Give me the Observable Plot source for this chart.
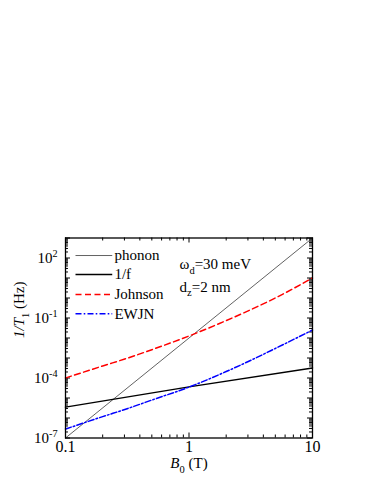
<!DOCTYPE html>
<html><head><meta charset="utf-8">
<script src="https://cdn.jsdelivr.net/npm/d3@7"></script>
<script src="https://cdn.jsdelivr.net/npm/@observablehq/plot@0.6"></script>
<style>html,body{margin:0;padding:0;background:#fff}svg{display:block}</style>
</head><body><div id="chart"></div>
<script>
// ---- data ----
const fieldB     = [0.1, 0.2, 0.32, 0.5, 1, 2, 3.2, 5, 10];
const johnson    = [1.0e-4, 4.0e-4, 1.0e-3, 2.6e-3, 1.26e-2, 7.4e-2, 0.27, 1.0, 10];
const ewjn       = [2.8e-7, 1.17e-6, 3.0e-6, 7.9e-6, 3.5e-5, 2.1e-4, 7.9e-4, 3.0e-3, 2.5e-2];
const oneFB      = [0.1, 1, 10];
const oneF       = [3.5e-6, 3.6e-5, 3.2e-4];
const phononB    = [0.1, 1, 10];
const phonon     = [1e-7, 1e-2, 1e3];
const seriesNames = ["phonon", "1/f", "Johnson", "EWJN"];
const xTicks      = [0.1, 1, 10];
const xTickLabels = ["0.1", "1", "10"];
const yTicks      = [1e-7, 1e-4, 1e-1, 1e2];
const yTickLabels = ["10^-7", "10^-4", "10^-1", "10^2"];
const annotations = ["ω_d=30 meV", "d_z=2 nm"];

// ---- build rows ----
const rows = (xs, ys) => xs.map((b, i) => ({B: b, v: ys[i]}));
const phononRows = rows(phononB, phonon);
const oneFRows = rows(oneFB, oneF);
const johnsonRows = rows(fieldB, johnson);
const ewjnRows = rows(fieldB, ewjn);

const FONT = "'Liberation Serif','Times New Roman',serif";
const FS = 15;
const W = 374, H = 484, ML = 65, MR = 62, MT = 237.5, MB = 46.5;
const FW = W - ML - MR, FH = H - MT - MB;

const styles = {
  "phonon":  {stroke: "#3a3a3a", strokeWidth: 0.8},
  "1/f":     {stroke: "#000", strokeWidth: 1.5},
  "Johnson": {stroke: "#ff0000", strokeWidth: 1.5, strokeDasharray: "6,3.5"},
  "EWJN":    {stroke: "#0000ff", strokeWidth: 1.5, strokeDasharray: "6,2.2,1.6,2.2"}
};

// minor tick positions
const xMinor = [];
[0.1, 1].forEach(d => { for (let k = 2; k <= 9; k++) xMinor.push(d * k); });
const yMajor = [];
const yMinor = [];
for (let e = -7; e <= 3; e++) { yMajor.push(Math.pow(10, e)); if (e < 3) for (let k = 2; k <= 9; k++) yMinor.push(k * Math.pow(10, e)); }

// legend geometry (data coordinates)
const legX1 = 0.1205, legX2 = 0.239, legTX = 0.249;
const legY = [133, 15, 1.5, 0.162];
const legend = seriesNames.map((n, i) => ({name: n, y: legY[i]}));

// inward tick marks on all four sides, drawn as short rules in data space
const tk = {stroke: "#000", strokeWidth: 1};
const tickMarks = (len, xs, ys) => {
  const dyDec = len / FH * 10, dxDec = len / FW * 2; // pixel length -> decades
  return [
    Plot.ruleX(xs, {x: d => d, y1: 1e-7, y2: Math.pow(10, -7 + dyDec), ...tk}),
    Plot.ruleX(xs, {x: d => d, y1: 1e3, y2: Math.pow(10, 3 - dyDec), ...tk}),
    Plot.ruleY(ys, {y: d => d, x1: 0.1, x2: Math.pow(10, -1 + dxDec), ...tk}),
    Plot.ruleY(ys, {y: d => d, x1: 10, x2: Math.pow(10, 1 - dxDec), ...tk})
  ];
};

const plot = Plot.plot({
  width: W, height: H,
  marginTop: MT, marginBottom: MB, marginLeft: ML, marginRight: MR,
  style: {fontFamily: FONT, fontSize: FS + "px", background: "#fff", color: "#000"},
  x: {type: "log", domain: [0.1, 10]},
  y: {type: "log", domain: [1e-7, 1e3]},
  marks: [
    ...tickMarks(5, xTicks, yMajor),
    ...tickMarks(3, xMinor, yMinor),
    Plot.line(phononRows, {x: "B", y: "v", ...styles["phonon"]}),
    Plot.line(oneFRows, {x: "B", y: "v", ...styles["1/f"]}),
    Plot.line(johnsonRows, {x: "B", y: "v", curve: "monotone-x", ...styles["Johnson"]}),
    Plot.line(ewjnRows, {x: "B", y: "v", curve: "monotone-x", ...styles["EWJN"]}),
    ...legend.map(d => Plot.link([d], {x1: () => legX1, x2: () => legX2, y1: "y", y2: "y", ...styles[d.name]})),
    Plot.text(legend, {x: () => legTX, y: "y", text: "name", textAnchor: "start", fontSize: FS}),
    Plot.text([annotations[0]], {x: () => 0.838, y: () => 47, text: d => d, textAnchor: "start", fontSize: FS}),
    Plot.text([annotations[1]], {x: () => 0.838, y: () => 3.5, text: d => d, textAnchor: "start", fontSize: FS}),
    Plot.text(["1/T_1 (Hz)"], {frameAnchor: "left", dx: -46, rotate: -90, text: d => d, fontSize: FS}),
    Plot.text(["B_0 (T)"], {frameAnchor: "bottom", dy: 30, text: d => d, fontSize: FS}),
    Plot.axisX({anchor: "bottom", ticks: xTicks, tickSize: 0, tickPadding: 3, tickFormat: d => xTickLabels[xTicks.findIndex(t => Math.abs(t - d) < 1e-9)], label: null, fontSize: FS + 1}),
    Plot.axisY({anchor: "left", ticks: yTicks, tickSize: 0, tickPadding: 8, tickFormat: d => yTickLabels[yTicks.findIndex(t => Math.abs(Math.log10(t) - Math.log10(d)) < 1e-6)], label: null, fontSize: FS}),
    Plot.frame({stroke: "#000", strokeWidth: 1.3})
  ]
});
document.getElementById("chart").appendChild(plot);

function rich(el, parts) {
  el.textContent = "";
  let shift = 0;
  parts.forEach(([s, kind]) => {
    const t = document.createElementNS("http://www.w3.org/2000/svg", "tspan");
    t.textContent = s;
    let target = 0;
    if (kind === "sub") { target = 0.3 * FS; t.setAttribute("font-size", 0.7 * FS); }
    if (kind === "sup") { target = -0.42 * FS; t.setAttribute("font-size", 0.68 * FS); }
    if (kind === "i") t.setAttribute("font-style", "italic");
    if (target !== shift) { t.setAttribute("dy", target - shift); shift = target; }
    el.appendChild(t);
  });
}
d3.select(plot).selectAll("text").each(function() {
  this.setAttribute("font-family", FONT);
  this.style.fontFamily = FONT;
  const s = this.textContent;
  let m;
  if ((m = s.match(/^10\^(-?\d+)$/))) rich(this, [["10", ""], [m[1], "sup"]]);
  else if (s === "ω_d=30 meV") rich(this, [["ω", ""], ["d", "sub"], ["=30 meV", ""]]);
  else if (s === "d_z=2 nm") rich(this, [["d", ""], ["z", "sub"], ["=2 nm", ""]]);
  else if (s === "1/T_1 (Hz)") rich(this, [["1/T", "i"], ["1", "sub"], [" (Hz)", ""]]);
  else if (s === "B_0 (T)") rich(this, [["B", "i"], ["0", "sub"], [" (T)", ""]]);
});
</script></body></html>
